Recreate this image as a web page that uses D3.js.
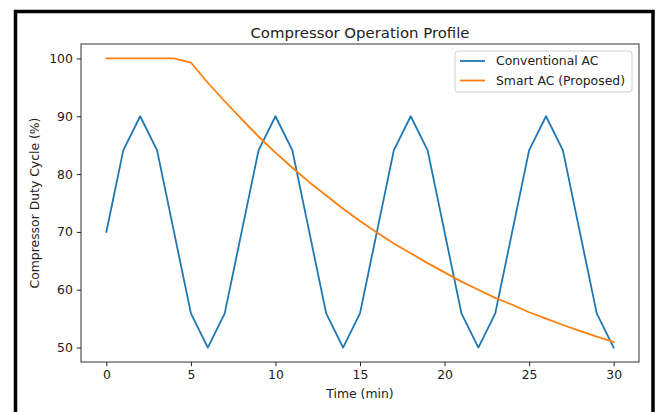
<!DOCTYPE html>
<html>
<head>
<meta charset="utf-8">
<script src="https://cdn.jsdelivr.net/npm/d3@7"></script>
<style>
  html, body { margin: 0; padding: 0; background: #fff; }
  svg { display: block; font-family: "DejaVu Sans", sans-serif; }
</style>
</head>
<body>
<svg id="chart" width="659" height="412"></svg>
<script>
// ---- data ----
const time = d3.range(0, 31);
const conventional = [70, 84.1, 90, 84.1, 70, 55.9, 50, 55.9,
                      70, 84.1, 90, 84.1, 70, 55.9, 50, 55.9,
                      70, 84.1, 90, 84.1, 70, 55.9, 50, 55.9,
                      70, 84.1, 90, 84.1, 70, 55.9, 50];
const smart = [100, 100, 100, 100, 100, 99.3, 95.8, 92.6, 89.5, 86.5, 83.7,
               81.1, 78.6, 76.3, 74.0, 71.9, 69.9, 68.0, 66.3, 64.6, 63.0,
               61.4, 60.0, 58.6, 57.4, 56.1, 55.0, 53.9, 52.9, 51.9, 51.0];
const seriesNames = ["Conventional AC", "Smart AC (Proposed)"];
const seriesColors = ["#1f77b4", "#ff7f0e"];
const xTicks = [0, 5, 10, 15, 20, 25, 30];
const yTicks = [50, 60, 70, 80, 90, 100];
const titleText = "Compressor Operation Profile";
const xLabel = "Time (min)";
const yLabel = "Compressor Duty Cycle (%)";

// ---- layout ----
const svg = d3.select("#chart");
const L = 81, R = 639, T = 44, B = 362;
const FS = 12.4;

// outer black frame
svg.append("rect")
  .attr("x", 15.5).attr("y", 11.5).attr("width", 637.5).attr("height", 440)
  .attr("fill", "none").attr("stroke", "#000").attr("stroke-width", 3.5);

const x = d3.scaleLinear().domain([-1.5, 31.5]).range([L, R]);
const y = d3.scaleLinear().domain([47.5, 102.5]).range([B, T]);

// lines
const line = d3.line().x((d, i) => x(time[i])).y(d => y(d));
[conventional, smart].forEach((s, k) => {
  svg.append("path").datum(s)
    .attr("d", line)
    .attr("fill", "none")
    .attr("stroke", seriesColors[k])
    .attr("stroke-width", 1.8)
    .attr("stroke-linejoin", "round")
    .attr("stroke-linecap", "square");
});

// axes
const xAxis = svg.append("g").attr("transform", `translate(0,${B})`)
  .call(d3.axisBottom(x).tickValues(xTicks).tickSize(4.2).tickPadding(4).tickSizeOuter(0));
const yAxis = svg.append("g").attr("transform", `translate(${L},0)`)
  .call(d3.axisLeft(y).tickValues(yTicks).tickSize(4.2).tickPadding(4).tickSizeOuter(0));
[xAxis, yAxis].forEach(g => {
  g.select(".domain").remove();
  g.selectAll("line").attr("stroke", "#222").attr("stroke-width", 1);
  g.selectAll("text").attr("font-size", FS).attr("fill", "#222")
    .attr("font-family", "DejaVu Sans, sans-serif");
});

// frame (spines)
svg.append("rect")
  .attr("x", L).attr("y", T).attr("width", R - L).attr("height", B - T)
  .attr("fill", "none").attr("stroke", "#333").attr("stroke-width", 1);

// title & labels
svg.append("text").attr("x", (L + R) / 2).attr("y", 38)
  .attr("text-anchor", "middle").attr("font-size", 14.9).attr("fill", "#222")
  .text(titleText);
svg.append("text").attr("x", (L + R) / 2).attr("y", 398)
  .attr("text-anchor", "middle").attr("font-size", FS).attr("fill", "#222")
  .text(xLabel);
svg.append("text")
  .attr("transform", `translate(39,${(T + B) / 2}) rotate(-90)`)
  .attr("text-anchor", "middle").attr("font-size", FS).attr("fill", "#222")
  .text(yLabel);

// legend
const lg = svg.append("g");
lg.append("rect").attr("x", 455).attr("y", 51).attr("width", 177).attr("height", 41)
  .attr("rx", 3).attr("fill", "#fff").attr("fill-opacity", 0.8)
  .attr("stroke", "#d0d0d0").attr("stroke-width", 1);
seriesNames.forEach((n, k) => {
  const yy = 61 + k * 19.5;
  lg.append("line").attr("x1", 460).attr("x2", 485).attr("y1", yy).attr("y2", yy)
    .attr("stroke", seriesColors[k]).attr("stroke-width", 1.8);
  lg.append("text").attr("x", 496).attr("y", yy + 4.3)
    .attr("font-size", FS).attr("fill", "#222").text(n);
});
</script>
</body>
</html>
